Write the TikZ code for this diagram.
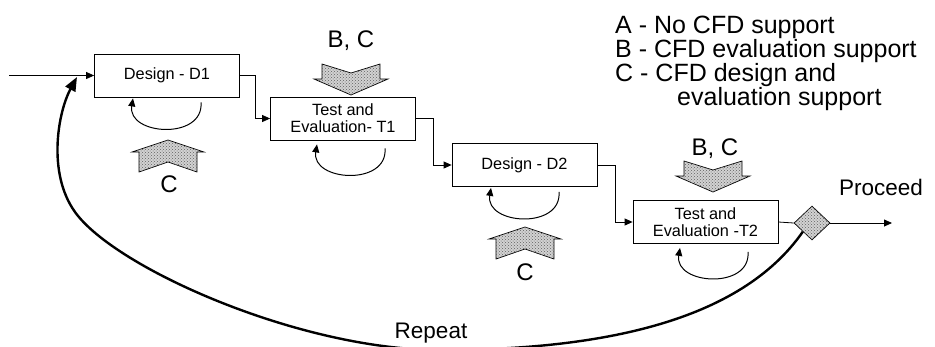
\documentclass[tikz,border=0pt]{standalone}
\usepackage{fontspec}
\setmainfont{Liberation Sans}
\usetikzlibrary{arrows.meta,shapes.geometric,patterns}

\newcommand\boxfont{\fontsize{16.3}{17}\selectfont}
\newcommand\bigfont{\fontsize{24}{25}\selectfont}
\newcommand\sidefont{\fontsize{22.5}{24}\selectfont}
\newcommand\legfont{\fontsize{25}{25}\selectfont}

\begin{document}
\begin{tikzpicture}[x=1pt,y=-1pt,
  box/.style={draw, line width=0.8pt, fill=white, minimum width=145pt,
    minimum height=43pt, inner sep=0pt, align=center, font=\boxfont},
  flow/.style={line width=0.8pt, -{Triangle[length=8pt,width=7pt]}},
  plainline/.style={line width=0.8pt},
  loopline/.style={line width=1pt, -{Triangle[length=8pt,width=7pt]}},
  repeatline/.style={line width=2.4pt, -{Triangle[length=14pt,width=11pt]}},
  stipple/.style={draw, line width=0.7pt, fill=gray!35,
    postaction={pattern=crosshatch dots, pattern color=gray!75!black}},
  big/.style={font=\bigfont, inner sep=0pt},
  side/.style={font=\sidefont, inner sep=0pt},
  legend/.style={font=\legfont, inner sep=0pt, anchor=base west},
  selfloop/.pic={\draw[loopline] (34,3) .. controls (37,41) and (-40,36) .. (-34,-1);},
  chevup/.pic={\draw[stipple] (0,0) -- (36,12) -- (29,12) -- (29,32) -- (0,22)
    -- (-29,32) -- (-29,12) -- (-36,12) -- cycle;},
  chevdown/.pic={\draw[stipple] (-29,0) -- (0,9) -- (29,0) -- (29,15) -- (37,15)
    -- (0,31) -- (-37,15) -- (-29,15) -- cycle;}
]
\useasboundingbox (0,0) rectangle (935,346);

% process steps
\node[box] (D1) at (167,75.5) {Design - D1};
\node[box] (T1) at (343,118.5) {Test and\\Evaluation- T1};
\node[box] (D2) at (524.5,165) {Design - D2};
\node[box] (T2) at (705.5,222) {Test and\\Evaluation -T2};
\node[diamond, aspect=1, stipple, minimum width=36pt, minimum height=34pt,
  inner sep=0pt] (dec) at (812,223) {};

\coordinate (in) at (9,75.5);
\coordinate (out) at (892,223);
\coordinate (rtip) at (77,77);

% forward flow
\draw[flow] (in) -- (D1.west);
\draw[flow] (D1.east) -- ++(15,0) |- (T1.west);
\draw[flow] (T1.east) -- ++(17,0) |- (D2.west);
\draw[flow] (D2.east) -- ++(18,0) |- (T2.west);
\draw[plainline] (T2.east) -- (dec.west);
\draw[flow] (dec.east) -- (out);
\node[side, anchor=base west] (proceed) at (839,195) {Proceed};

% iteration loops under each step
\pic at ([xshift=0pt,yshift=-2pt]D1.south) {selfloop};
\pic at ([xshift=8pt,yshift=-5pt]T1.south) {selfloop};
\pic at ([xshift=0.5pt,yshift=-2pt]D2.south) {selfloop};
\pic at ([xshift=8.5pt,yshift=-5pt]T2.south) {selfloop};

% CFD support inputs
\pic at (168,140) {chevup};
\node[big, anchor=base] (c1) at (169,192) {C};
\pic at (525,227) {chevup};
\node[big, anchor=base] (c2) at (525,280) {C};
\pic at (351,64) {chevdown};
\node[big, anchor=base] (bc1) at (351,47) {B, C};
\pic at (713,161) {chevdown};
\node[big, anchor=base] (bc2) at (715,155) {B, C};

% repeat path back to the first design step
\draw[repeatline] (dec.south west) .. controls (740,322) and (600,350) .. (440,350)
  .. controls (300,350) and (115,268) .. (75,212)
  .. controls (47,173) and (58,112) .. (rtip);
\node[side, anchor=base] (repeat) at (431,338) {Repeat};

% legend
\node[legend] (la) at (615,33) {A - No CFD support};
\node[legend] (lb) at (615,57) {B - CFD evaluation support};
\node[legend] (lc) at (615,81) {C - CFD design and};
\node[legend] (ld) at (677,105) {evaluation support};
\end{tikzpicture}
\end{document}
